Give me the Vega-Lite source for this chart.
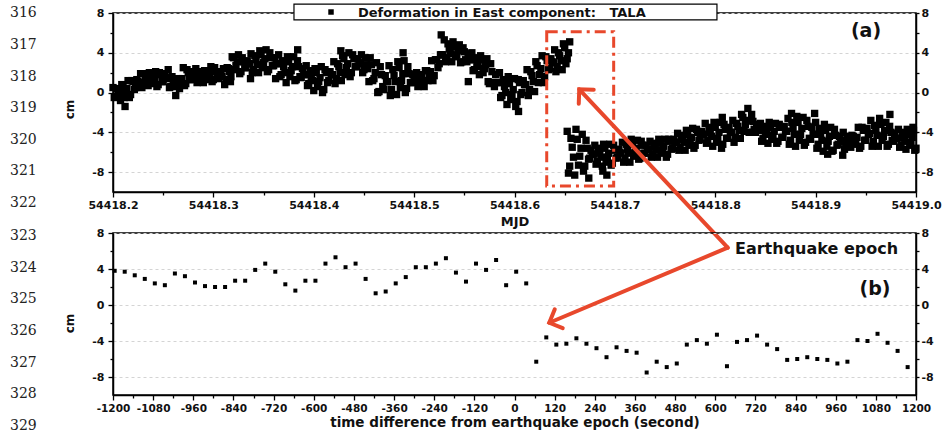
{
  "$schema": "https://vega.github.io/schema/vega-lite/v6.json",
  "background": "white",
  "padding": {"left": 9, "top": 2, "right": 4, "bottom": 0},
  "bounds": "flush",
  "spacing": 41,
  "config": {
    "locale": {"number": {"decimal": ".", "thousands": ",", "grouping": [3], "currency": ["$", ""], "minus": "-"}},
    "view": {"stroke": "black", "strokeWidth": 1.5},
    "axis": {
      "labelFont": "DejaVu Sans", "labelFontSize": 11, "labelFontWeight": "bold", "labelColor": "#111",
      "titleFont": "DejaVu Sans", "titleFontWeight": "bold", "titleFontSize": 13, "titleColor": "#111",
      "domainColor": "black", "domainWidth": 1.5, "tickColor": "black", "tickWidth": 1.3, "tickSize": 5,
      "labelPadding": 3, "grid": false, "labelOverlap": false, "labelFlush": false
    }
  },
  "datasets": {
    "east": [
      {"t":54418.2,"e":0.5},{"t":54418.2025,"e":-0.4},{"t":54418.205,"e":0.1},{"t":54418.2075,"e":-0.8},{"t":54418.21,"e":0.5},{"t":54418.2125,"e":0.0},{"t":54418.215,"e":1.2},{"t":54418.2175,"e":-0.2},{"t":54418.22,"e":1.1},{"t":54418.2225,"e":0.5},
      {"t":54418.225,"e":1.1},{"t":54418.2275,"e":1.9},{"t":54418.23,"e":0.9},{"t":54418.2325,"e":1.6},{"t":54418.235,"e":0.7},{"t":54418.2375,"e":1.7},{"t":54418.24,"e":1.2},{"t":54418.2425,"e":2.1},{"t":54418.245,"e":0.8},{"t":54418.2475,"e":1.8},
      {"t":54418.25,"e":1.1},{"t":54418.2525,"e":1.5},{"t":54418.255,"e":2.3},{"t":54418.2575,"e":0.6},{"t":54418.26,"e":1.0},{"t":54418.2625,"e":-0.3},{"t":54418.265,"e":1.4},{"t":54418.2675,"e":1.1},{"t":54418.27,"e":2.5},{"t":54418.2725,"e":0.9},
      {"t":54418.275,"e":2.0},{"t":54418.2775,"e":1.3},{"t":54418.28,"e":1.7},{"t":54418.2825,"e":2.4},{"t":54418.285,"e":1.2},{"t":54418.2875,"e":1.7},{"t":54418.29,"e":1.0},{"t":54418.2925,"e":2.1},{"t":54418.295,"e":1.6},{"t":54418.2975,"e":2.6},
      {"t":54418.3,"e":1.3},{"t":54418.3025,"e":2.1},{"t":54418.305,"e":1.4},{"t":54418.3075,"e":1.7},{"t":54418.31,"e":2.4},{"t":54418.3125,"e":1.3},{"t":54418.315,"e":2.4},{"t":54418.3175,"e":1.6},{"t":54418.32,"e":3.5},{"t":54418.3225,"e":2.7},
      {"t":54418.325,"e":3.8},{"t":54418.3275,"e":2.1},{"t":54418.33,"e":3.1},{"t":54418.3325,"e":2.5},{"t":54418.335,"e":2.9},{"t":54418.3375,"e":3.9},{"t":54418.34,"e":2.3},{"t":54418.3425,"e":3.3},{"t":54418.345,"e":2.0},{"t":54418.3475,"e":3.8},
      {"t":54418.35,"e":3.0},{"t":54418.3525,"e":4.3},{"t":54418.355,"e":2.3},{"t":54418.3575,"e":3.5},{"t":54418.36,"e":2.7},{"t":54418.3625,"e":2.9},{"t":54418.365,"e":3.8},{"t":54418.3675,"e":1.8},{"t":54418.37,"e":2.6},{"t":54418.3725,"e":1.0},
      {"t":54418.375,"e":3.1},{"t":54418.3775,"e":2.2},{"t":54418.38,"e":3.6},{"t":54418.3825,"e":1.3},{"t":54418.385,"e":2.6},{"t":54418.3875,"e":1.5},{"t":54418.39,"e":1.8},{"t":54418.3925,"e":2.7},{"t":54418.395,"e":0.9},{"t":54418.3975,"e":1.6},
      {"t":54418.4,"e":0.2},{"t":54418.4025,"e":2.0},{"t":54418.405,"e":1.1},{"t":54418.4075,"e":2.6},{"t":54418.41,"e":0.3},{"t":54418.4125,"e":2.0},{"t":54418.415,"e":1.2},{"t":54418.4175,"e":1.8},{"t":54418.42,"e":3.1},{"t":54418.4225,"e":1.4},
      {"t":54418.425,"e":2.6},{"t":54418.4275,"e":1.2},{"t":54418.43,"e":3.4},{"t":54418.4325,"e":2.5},{"t":54418.435,"e":4.0},{"t":54418.4375,"e":2.0},{"t":54418.44,"e":3.4},{"t":54418.4425,"e":2.6},{"t":54418.445,"e":3.0},{"t":54418.4475,"e":3.8},
      {"t":54418.45,"e":2.3},{"t":54418.4525,"e":2.8},{"t":54418.455,"e":1.1},{"t":54418.4575,"e":2.8},{"t":54418.46,"e":1.4},{"t":54418.4625,"e":3.0},{"t":54418.465,"e":0.1},{"t":54418.4675,"e":1.8},{"t":54418.47,"e":0.3},{"t":54418.4725,"e":1.1},
      {"t":54418.475,"e":2.7},{"t":54418.4775,"e":0.3},{"t":54418.48,"e":1.7},{"t":54418.4825,"e":-0.2},{"t":54418.485,"e":2.5},{"t":54418.4875,"e":1.2},{"t":54418.49,"e":3.2},{"t":54418.4925,"e":0.4},{"t":54418.495,"e":1.9},{"t":54418.4975,"e":1.0},
      {"t":54418.5,"e":1.3},{"t":54418.5025,"e":2.0},{"t":54418.505,"e":0.9},{"t":54418.5075,"e":1.5},{"t":54418.51,"e":0.6},{"t":54418.5125,"e":2.2},{"t":54418.515,"e":1.8},{"t":54418.5175,"e":3.2},{"t":54418.52,"e":1.7},{"t":54418.5225,"e":3.3},
      {"t":54418.525,"e":2.9},{"t":54418.5275,"e":3.8},{"t":54418.53,"e":5.3},{"t":54418.5325,"e":3.5},{"t":54418.535,"e":4.4},{"t":54418.5375,"e":3.1},{"t":54418.54,"e":4.6},{"t":54418.5425,"e":3.8},{"t":54418.545,"e":4.8},{"t":54418.5475,"e":3.1},
      {"t":54418.55,"e":4.1},{"t":54418.5525,"e":3.1},{"t":54418.555,"e":3.3},{"t":54418.5575,"e":4.0},{"t":54418.56,"e":2.3},{"t":54418.5625,"e":3.0},{"t":54418.565,"e":1.8},{"t":54418.5675,"e":3.3},{"t":54418.57,"e":2.4},{"t":54418.5725,"e":3.4},
      {"t":54418.575,"e":0.9},{"t":54418.5775,"e":2.1},{"t":54418.58,"e":0.6},{"t":54418.5825,"e":1.0},{"t":54418.585,"e":2.0},{"t":54418.5875,"e":-0.3},{"t":54418.59,"e":0.6},{"t":54418.5925,"e":-1.2},{"t":54418.595,"e":0.9},{"t":54418.5975,"e":-0.2},
      {"t":54418.6,"e":1.4},{"t":54418.6025,"e":-0.9},{"t":54418.605,"e":1.0},{"t":54418.6075,"e":0.0},{"t":54418.61,"e":0.8},{"t":54418.6125,"e":2.3},{"t":54418.615,"e":0.3},{"t":54418.6175,"e":1.7},{"t":54418.62,"e":0.1},{"t":54418.6225,"e":2.7},
      {"t":54418.625,"e":1.8},{"t":54418.6275,"e":3.7},{"t":54418.63,"e":1.6},{"t":54418.6325,"e":3.2},{"t":54418.635,"e":2.4},{"t":54418.6375,"e":3.1},{"t":54418.64,"e":4.3},{"t":54418.6425,"e":2.6},{"t":54418.645,"e":3.7},{"t":54418.6475,"e":2.3},
      {"t":54418.65,"e":4.5},{"t":54418.6525,"e":3.4},{"t":54418.655,"e":5.1},
      {"t":54418.20125,"e":-0.5},{"t":54418.20375,"e":0.4},{"t":54418.20625,"e":-0.1},{"t":54418.20875,"e":0.8},{"t":54418.21125,"e":-0.5},{"t":54418.21375,"e":0.4},{"t":54418.21625,"e":-0.5},{"t":54418.21875,"e":1.2},{"t":54418.22125,"e":0.3},{"t":54418.22375,"e":1.3},
      {"t":54418.22625,"e":1.0},{"t":54418.22875,"e":0.5},{"t":54418.23125,"e":1.9},{"t":54418.23375,"e":1.2},{"t":54418.23625,"e":2.0},{"t":54418.23875,"e":0.9},{"t":54418.24125,"e":1.4},{"t":54418.24375,"e":0.6},{"t":54418.24625,"e":2.0},{"t":54418.24875,"e":1.1},
      {"t":54418.25125,"e":1.9},{"t":54418.25375,"e":1.4},{"t":54418.25625,"e":0.5},{"t":54418.25875,"e":1.6},{"t":54418.26125,"e":0.6},{"t":54418.26375,"e":1.3},{"t":54418.26625,"e":0.4},{"t":54418.26875,"e":1.4},{"t":54418.27125,"e":0.7},{"t":54418.27375,"e":2.3},
      {"t":54418.27625,"e":1.3},{"t":54418.27875,"e":2.1},{"t":54418.28125,"e":1.7},{"t":54418.28375,"e":1.0},{"t":54418.28625,"e":2.1},{"t":54418.28875,"e":1.5},{"t":54418.29125,"e":2.2},{"t":54418.29375,"e":1.3},{"t":54418.29625,"e":1.9},{"t":54418.29875,"e":1.1},
      {"t":54418.30125,"e":2.5},{"t":54418.30375,"e":1.5},{"t":54418.30625,"e":2.1},{"t":54418.30875,"e":1.6},{"t":54418.31125,"e":0.8},{"t":54418.31375,"e":2.5},{"t":54418.31625,"e":2.1},{"t":54418.31875,"e":3.6},{"t":54418.32125,"e":2.3},{"t":54418.32375,"e":3.1},
      {"t":54418.32625,"e":1.9},{"t":54418.32875,"e":3.5},{"t":54418.33125,"e":2.5},{"t":54418.33375,"e":3.2},{"t":54418.33625,"e":2.9},{"t":54418.33875,"e":2.0},{"t":54418.34125,"e":3.7},{"t":54418.34375,"e":2.8},{"t":54418.34625,"e":4.2},{"t":54418.34875,"e":2.5},
      {"t":54418.35125,"e":3.4},{"t":54418.35375,"e":2.1},{"t":54418.35625,"e":4.0},{"t":54418.35875,"e":2.7},{"t":54418.36125,"e":3.5},{"t":54418.36375,"e":2.9},{"t":54418.36625,"e":1.6},{"t":54418.36875,"e":3.2},{"t":54418.37125,"e":2.0},{"t":54418.37375,"e":3.6},
      {"t":54418.37625,"e":1.6},{"t":54418.37875,"e":2.6},{"t":54418.38125,"e":1.2},{"t":54418.38375,"e":3.2},{"t":54418.38625,"e":1.6},{"t":54418.38875,"e":2.4},{"t":54418.39125,"e":1.8},{"t":54418.39375,"e":0.7},{"t":54418.39625,"e":2.2},{"t":54418.39875,"e":1.2},
      {"t":54418.40125,"e":2.4},{"t":54418.40375,"e":0.6},{"t":54418.40625,"e":1.5},{"t":54418.40875,"e":0.0},{"t":54418.41125,"e":2.3},{"t":54418.41375,"e":1.0},{"t":54418.41625,"e":2.1},{"t":54418.41875,"e":1.8},{"t":54418.42125,"e":0.9},{"t":54418.42375,"e":2.9},
      {"t":54418.42625,"e":2.0},{"t":54418.42875,"e":3.7},{"t":54418.43125,"e":1.8},{"t":54418.43375,"e":2.9},{"t":54418.43625,"e":1.6},{"t":54418.43875,"e":3.8},{"t":54418.44125,"e":2.6},{"t":54418.44375,"e":3.4},{"t":54418.44625,"e":2.9},{"t":54418.44875,"e":2.0},
      {"t":54418.45125,"e":3.5},{"t":54418.45375,"e":2.4},{"t":54418.45625,"e":3.5},{"t":54418.45875,"e":1.2},{"t":54418.46125,"e":2.0},{"t":54418.46375,"e":0.0},{"t":54418.46625,"e":2.6},{"t":54418.46875,"e":0.6},{"t":54418.47125,"e":1.7},{"t":54418.47375,"e":1.1},
      {"t":54418.47625,"e":-0.3},{"t":54418.47875,"e":2.3},{"t":54418.48125,"e":1.1},{"t":54418.48375,"e":3.1},{"t":54418.48625,"e":0.5},{"t":54418.48875,"e":1.9},{"t":54418.49125,"e":0.0},{"t":54418.49375,"e":2.6},{"t":54418.49625,"e":1.0},{"t":54418.49875,"e":1.8},
      {"t":54418.50125,"e":1.3},{"t":54418.50375,"e":0.6},{"t":54418.50625,"e":1.8},{"t":54418.50875,"e":1.2},{"t":54418.51125,"e":2.2},{"t":54418.51375,"e":1.2},{"t":54418.51625,"e":2.1},{"t":54418.51875,"e":1.2},{"t":54418.52125,"e":3.3},{"t":54418.52375,"e":2.5},
      {"t":54418.52625,"e":3.8},{"t":54418.52875,"e":3.8},{"t":54418.53125,"e":3.1},{"t":54418.53375,"e":4.9},{"t":54418.53625,"e":3.9},{"t":54418.53875,"e":5.1},{"t":54418.54125,"e":3.6},{"t":54418.54375,"e":4.2},{"t":54418.54625,"e":3.0},{"t":54418.54875,"e":4.5},
      {"t":54418.55125,"e":3.3},{"t":54418.55375,"e":3.9},{"t":54418.55625,"e":3.3},{"t":54418.55875,"e":2.2},{"t":54418.56125,"e":3.5},{"t":54418.56375,"e":2.6},{"t":54418.56625,"e":3.7},{"t":54418.56875,"e":2.0},{"t":54418.57125,"e":2.8},{"t":54418.57375,"e":1.1},
      {"t":54418.57625,"e":2.9},{"t":54418.57875,"e":1.0},{"t":54418.58125,"e":1.8},{"t":54418.58375,"e":1.0},{"t":54418.58625,"e":-0.5},{"t":54418.58875,"e":1.3},{"t":54418.59125,"e":0.0},{"t":54418.59375,"e":1.6},{"t":54418.59625,"e":-0.7},{"t":54418.59875,"e":0.3},
      {"t":54418.60125,"e":-1.4},{"t":54418.60375,"e":1.3},{"t":54418.60625,"e":-0.2},{"t":54418.60875,"e":1.2},{"t":54418.61125,"e":0.8},{"t":54418.61375,"e":-0.3},{"t":54418.61625,"e":2.1},{"t":54418.61875,"e":1.1},{"t":54418.62125,"e":3.1},{"t":54418.62375,"e":1.0},
      {"t":54418.62625,"e":2.4},{"t":54418.62875,"e":1.0},{"t":54418.63125,"e":3.6},{"t":54418.63375,"e":2.3},{"t":54418.63625,"e":3.4},{"t":54418.63875,"e":3.0},{"t":54418.64125,"e":2.1},{"t":54418.64375,"e":4.0},{"t":54418.64625,"e":3.2},{"t":54418.64875,"e":4.9},
      {"t":54418.65125,"e":2.9},{"t":54418.65375,"e":4.0},
      {"t":54418.212,"e":-1.4},{"t":54418.317,"e":1.1},{"t":54418.337,"e":1.4},{"t":54418.362,"e":1.4},{"t":54418.384,"e":4.3},{"t":54418.427,"e":4.2},{"t":54418.489,"e":4.0},{"t":54418.527,"e":5.8},{"t":54418.554,"e":1.1},{"t":54418.604,"e":-1.9},
      {"t":54418.6525,"e":-3.9},{"t":54418.655,"e":-7.4},{"t":54418.6575,"e":-5.5},{"t":54418.66,"e":-8.3},{"t":54418.6625,"e":-4.7},{"t":54418.665,"e":-6.4},{"t":54418.6675,"e":-4.2},{"t":54418.67,"e":-7.4},{"t":54418.6725,"e":-5.6},{"t":54418.675,"e":-6.6},
      {"t":54418.6775,"e":-6.2},{"t":54418.68,"e":-5.3},{"t":54418.6825,"e":-6.9},{"t":54418.685,"e":-6.1},{"t":54418.6875,"e":-7.4},{"t":54418.69,"e":-5.6},{"t":54418.6925,"e":-6.5},{"t":54418.695,"e":-5.2},{"t":54418.6975,"e":-7.1},{"t":54418.7,"e":-5.8},
      {"t":54418.7025,"e":-6.5},{"t":54418.705,"e":-6.0},{"t":54418.7075,"e":-5.0},{"t":54418.71,"e":-6.6},{"t":54418.7125,"e":-5.7},{"t":54418.715,"e":-7.0},{"t":54418.7175,"e":-5.2},{"t":54418.72,"e":-6.0},{"t":54418.7225,"e":-4.8},{"t":54418.725,"e":-6.6},
      {"t":54418.7275,"e":-5.3},{"t":54418.73,"e":-6.1},{"t":54418.7325,"e":-5.7},{"t":54418.735,"e":-4.9},{"t":54418.7375,"e":-6.2},{"t":54418.74,"e":-5.5},{"t":54418.7425,"e":-6.5},{"t":54418.745,"e":-5.1},{"t":54418.7475,"e":-5.8},{"t":54418.75,"e":-4.7},
      {"t":54418.7525,"e":-6.2},{"t":54418.755,"e":-4.9},{"t":54418.7575,"e":-5.6},{"t":54418.76,"e":-5.0},{"t":54418.7625,"e":-4.1},{"t":54418.765,"e":-5.5},{"t":54418.7675,"e":-4.7},{"t":54418.77,"e":-5.8},{"t":54418.7725,"e":-4.2},{"t":54418.775,"e":-4.9},
      {"t":54418.7775,"e":-3.6},{"t":54418.78,"e":-5.3},{"t":54418.7825,"e":-4.0},{"t":54418.785,"e":-4.7},{"t":54418.7875,"e":-4.2},{"t":54418.79,"e":-3.1},{"t":54418.7925,"e":-4.8},{"t":54418.795,"e":-4.0},{"t":54418.7975,"e":-5.4},{"t":54418.8,"e":-3.5},
      {"t":54418.8025,"e":-4.6},{"t":54418.805,"e":-3.0},{"t":54418.8075,"e":-5.2},{"t":54418.81,"e":-3.7},{"t":54418.8125,"e":-4.6},{"t":54418.815,"e":-4.0},{"t":54418.8175,"e":-2.8},{"t":54418.82,"e":-4.5},{"t":54418.8225,"e":-3.4},{"t":54418.825,"e":-4.6},
      {"t":54418.8275,"e":-2.5},{"t":54418.83,"e":-3.2},{"t":54418.8325,"e":-1.6},{"t":54418.835,"e":-4.0},{"t":54418.8375,"e":-2.9},{"t":54418.84,"e":-4.0},{"t":54418.8425,"e":-3.8},{"t":54418.845,"e":-3.1},{"t":54418.8475,"e":-4.6},{"t":54418.85,"e":-3.9},
      {"t":54418.8525,"e":-5.1},{"t":54418.855,"e":-3.5},{"t":54418.8575,"e":-4.3},{"t":54418.86,"e":-3.1},{"t":54418.8625,"e":-4.9},{"t":54418.865,"e":-3.5},{"t":54418.8675,"e":-4.5},{"t":54418.87,"e":-3.9},{"t":54418.8725,"e":-2.6},{"t":54418.875,"e":-4.8},
      {"t":54418.8775,"e":-3.6},{"t":54418.88,"e":-5.4},{"t":54418.8825,"e":-3.0},{"t":54418.885,"e":-4.2},{"t":54418.8875,"e":-2.5},{"t":54418.89,"e":-5.0},{"t":54418.8925,"e":-3.4},{"t":54418.895,"e":-4.7},{"t":54418.8975,"e":-4.2},{"t":54418.9,"e":-3.0},
      {"t":54418.9025,"e":-5.2},{"t":54418.905,"e":-4.2},{"t":54418.9075,"e":-5.9},{"t":54418.91,"e":-3.8},{"t":54418.9125,"e":-4.9},{"t":54418.915,"e":-3.5},{"t":54418.9175,"e":-5.8},{"t":54418.92,"e":-4.3},{"t":54418.9225,"e":-5.2},{"t":54418.925,"e":-4.9},
      {"t":54418.9275,"e":-4.0},{"t":54418.93,"e":-5.3},{"t":54418.9325,"e":-4.8},{"t":54418.935,"e":-5.5},{"t":54418.9375,"e":-4.4},{"t":54418.94,"e":-4.8},{"t":54418.9425,"e":-3.5},{"t":54418.945,"e":-5.4},{"t":54418.9475,"e":-3.8},{"t":54418.95,"e":-4.8},
      {"t":54418.9525,"e":-4.2},{"t":54418.955,"e":-2.8},{"t":54418.9575,"e":-4.9},{"t":54418.96,"e":-3.8},{"t":54418.9625,"e":-5.4},{"t":54418.965,"e":-3.2},{"t":54418.9675,"e":-4.4},{"t":54418.97,"e":-3.0},{"t":54418.9725,"e":-5.2},{"t":54418.975,"e":-4.0},
      {"t":54418.9775,"e":-4.9},{"t":54418.98,"e":-4.6},{"t":54418.9825,"e":-3.7},{"t":54418.985,"e":-5.3},{"t":54418.9875,"e":-4.5},{"t":54418.99,"e":-5.7},{"t":54418.9925,"e":-4.2},{"t":54418.995,"e":-5.0},{"t":54418.9975,"e":-3.8},{"t":54419.0,"e":-5.6},
      {"t":54418.65375,"e":-8.1},{"t":54418.65625,"e":-4.6},{"t":54418.65875,"e":-6.5},{"t":54418.66125,"e":-3.7},{"t":54418.66375,"e":-7.3},{"t":54418.66625,"e":-5.6},{"t":54418.66875,"e":-7.9},{"t":54418.67125,"e":-4.8},{"t":54418.67375,"e":-6.7},{"t":54418.67625,"e":-5.8},
      {"t":54418.67875,"e":-6.2},{"t":54418.68125,"e":-7.2},{"t":54418.68375,"e":-5.6},{"t":54418.68625,"e":-6.5},{"t":54418.68875,"e":-5.2},{"t":54418.69125,"e":-7.0},{"t":54418.69375,"e":-6.1},{"t":54418.69625,"e":-7.3},{"t":54418.69875,"e":-5.3},{"t":54418.70125,"e":-6.6},
      {"t":54418.70375,"e":-5.7},{"t":54418.70625,"e":-6.1},{"t":54418.70875,"e":-7.0},{"t":54418.71125,"e":-5.2},{"t":54418.71375,"e":-6.1},{"t":54418.71625,"e":-4.7},{"t":54418.71875,"e":-6.4},{"t":54418.72125,"e":-5.6},{"t":54418.72375,"e":-6.7},{"t":54418.72625,"e":-4.9},
      {"t":54418.72875,"e":-6.1},{"t":54418.73125,"e":-5.3},{"t":54418.73375,"e":-5.7},{"t":54418.73625,"e":-6.5},{"t":54418.73875,"e":-5.1},{"t":54418.74125,"e":-5.8},{"t":54418.74375,"e":-4.7},{"t":54418.74625,"e":-6.1},{"t":54418.74875,"e":-5.4},{"t":54418.75125,"e":-6.5},
      {"t":54418.75375,"e":-4.7},{"t":54418.75625,"e":-5.7},{"t":54418.75875,"e":-4.7},{"t":54418.76125,"e":-5.0},{"t":54418.76375,"e":-5.8},{"t":54418.76625,"e":-4.3},{"t":54418.76875,"e":-5.0},{"t":54418.77125,"e":-3.8},{"t":54418.77375,"e":-5.3},{"t":54418.77625,"e":-4.5},
      {"t":54418.77875,"e":-5.6},{"t":54418.78125,"e":-3.7},{"t":54418.78375,"e":-4.8},{"t":54418.78625,"e":-3.9},{"t":54418.78875,"e":-4.2},{"t":54418.79125,"e":-5.1},{"t":54418.79375,"e":-3.5},{"t":54418.79625,"e":-4.4},{"t":54418.79875,"e":-3.0},{"t":54418.80125,"e":-5.0},
      {"t":54418.80375,"e":-4.0},{"t":54418.80625,"e":-5.6},{"t":54418.80875,"e":-3.2},{"t":54418.81125,"e":-4.6},{"t":54418.81375,"e":-3.5},{"t":54418.81625,"e":-4.0},{"t":54418.81875,"e":-5.0},{"t":54418.82125,"e":-3.1},{"t":54418.82375,"e":-3.8},{"t":54418.82625,"e":-2.2},
      {"t":54418.82875,"e":-3.9},{"t":54418.83125,"e":-2.8},{"t":54418.83375,"e":-4.0},{"t":54418.83625,"e":-2.2},{"t":54418.83875,"e":-3.7},{"t":54418.84125,"e":-3.2},{"t":54418.84375,"e":-3.8},{"t":54418.84625,"e":-4.9},{"t":54418.84875,"e":-3.4},{"t":54418.85125,"e":-4.2},
      {"t":54418.85375,"e":-3.0},{"t":54418.85625,"e":-4.7},{"t":54418.85875,"e":-3.9},{"t":54418.86125,"e":-5.1},{"t":54418.86375,"e":-3.2},{"t":54418.86625,"e":-4.5},{"t":54418.86875,"e":-3.4},{"t":54418.87125,"e":-3.9},{"t":54418.87375,"e":-5.2},{"t":54418.87625,"e":-3.0},
      {"t":54418.87875,"e":-4.2},{"t":54418.88125,"e":-2.4},{"t":54418.88375,"e":-4.8},{"t":54418.88625,"e":-3.6},{"t":54418.88875,"e":-5.3},{"t":54418.89125,"e":-2.8},{"t":54418.89375,"e":-4.6},{"t":54418.89625,"e":-3.5},{"t":54418.89875,"e":-4.2},{"t":54418.90125,"e":-5.6},
      {"t":54418.90375,"e":-3.6},{"t":54418.90625,"e":-4.8},{"t":54418.90875,"e":-3.2},{"t":54418.91125,"e":-5.4},{"t":54418.91375,"e":-4.4},{"t":54418.91625,"e":-5.9},{"t":54418.91875,"e":-3.7},{"t":54418.92125,"e":-5.3},{"t":54418.92375,"e":-4.4},{"t":54418.92625,"e":-4.8},
      {"t":54418.92875,"e":-5.7},{"t":54418.93125,"e":-4.4},{"t":54418.93375,"e":-5.0},{"t":54418.93625,"e":-4.3},{"t":54418.93875,"e":-5.2},{"t":54418.94125,"e":-4.5},{"t":54418.94375,"e":-5.6},{"t":54418.94625,"e":-3.5},{"t":54418.94875,"e":-4.8},{"t":54418.95125,"e":-3.6},
      {"t":54418.95375,"e":-4.1},{"t":54418.95625,"e":-5.4},{"t":54418.95875,"e":-3.3},{"t":54418.96125,"e":-4.3},{"t":54418.96375,"e":-2.6},{"t":54418.96625,"e":-4.8},{"t":54418.96875,"e":-3.8},{"t":54418.97125,"e":-5.4},{"t":54418.97375,"e":-3.4},{"t":54418.97625,"e":-4.8},
      {"t":54418.97875,"e":-4.1},{"t":54418.98125,"e":-4.6},{"t":54418.98375,"e":-5.5},{"t":54418.98625,"e":-4.0},{"t":54418.98875,"e":-4.9},{"t":54418.99125,"e":-3.7},{"t":54418.99375,"e":-5.3},{"t":54418.99625,"e":-4.5},{"t":54418.99875,"e":-5.8},
      {"t":54418.674,"e":-8.6},{"t":54418.688,"e":-7.9},{"t":54418.692,"e":-8.3},{"t":54418.807,"e":-2.5},{"t":54418.876,"e":-2.1},{"t":54418.899,"e":-2.1},{"t":54418.912,"e":-6.2},{"t":54418.927,"e":-6.3},{"t":54418.974,"e":-2.2},{"t":54418.997,"e":-3.5}
    ],
    "diff": [
      {"s":-1195,"e":3.8},{"s":-1165,"e":3.7},{"s":-1135,"e":3.3},{"s":-1105,"e":2.9},{"s":-1075,"e":2.4},{"s":-1045,"e":2.2},{"s":-1015,"e":3.5},{"s":-985,"e":3.2},{"s":-955,"e":2.5},{"s":-925,"e":2.1},
      {"s":-895,"e":2.0},{"s":-865,"e":2.0},{"s":-835,"e":2.7},{"s":-805,"e":2.7},{"s":-775,"e":3.9},{"s":-745,"e":4.6},{"s":-715,"e":3.7},{"s":-685,"e":2.3},{"s":-655,"e":1.6},{"s":-625,"e":2.7},
      {"s":-595,"e":2.7},{"s":-565,"e":4.6},{"s":-535,"e":5.3},{"s":-505,"e":4.2},{"s":-475,"e":4.6},{"s":-445,"e":2.9},{"s":-415,"e":1.3},{"s":-385,"e":1.5},{"s":-355,"e":2.4},{"s":-325,"e":3.1},
      {"s":-295,"e":4.2},{"s":-265,"e":4.2},{"s":-235,"e":4.6},{"s":-205,"e":5.2},{"s":-175,"e":3.6},{"s":-145,"e":2.6},{"s":-115,"e":4.6},{"s":-85,"e":3.9},{"s":-55,"e":5.0},{"s":-25,"e":2.2},
      {"s":5,"e":3.7},{"s":35,"e":2.4},{"s":65,"e":-6.3},{"s":95,"e":-3.6},{"s":125,"e":-4.4},{"s":155,"e":-4.3},{"s":185,"e":-3.7},{"s":215,"e":-4.3},{"s":245,"e":-4.8},{"s":275,"e":-5.8},
      {"s":305,"e":-4.7},{"s":335,"e":-5.1},{"s":365,"e":-5.3},{"s":395,"e":-7.5},{"s":425,"e":-6.3},{"s":455,"e":-6.9},{"s":485,"e":-6.5},{"s":515,"e":-4.4},{"s":545,"e":-3.9},{"s":575,"e":-4.3},
      {"s":605,"e":-3.3},{"s":635,"e":-6.8},{"s":665,"e":-4.1},{"s":695,"e":-3.9},{"s":725,"e":-3.4},{"s":755,"e":-4.4},{"s":785,"e":-4.9},{"s":815,"e":-6.1},{"s":845,"e":-6.0},{"s":875,"e":-5.8},
      {"s":905,"e":-6.0},{"s":935,"e":-6.1},{"s":965,"e":-6.5},{"s":995,"e":-6.3},{"s":1025,"e":-3.9},{"s":1055,"e":-4.0},{"s":1085,"e":-3.2},{"s":1115,"e":-4.2},{"s":1145,"e":-5.1},{"s":1175,"e":-6.9}
    ],
    "lines_a": [{"ln":316},{"ln":317},{"ln":318},{"ln":319},{"ln":320},{"ln":321},{"ln":322}],
    "lines_b": [{"ln":323},{"ln":324},{"ln":325},{"ln":326},{"ln":327},{"ln":328},{"ln":329}]
  },
  "vconcat": [
    {
      "width": 803,
      "height": 179,
      "layer": [
        {
          "data": {"name": "east"},
          "mark": {"type": "point", "shape": "square", "filled": true, "size": 54, "color": "black", "opacity": 1},
          "encoding": {
            "x": {"field": "t", "type": "quantitative", "scale": {"domain": [54418.2, 54419.0], "nice": false, "zero": false},
                  "axis": {"orient": "bottom", "values": [54418.2,54418.3,54418.4,54418.5,54418.6,54418.7,54418.8,54418.9,54419.0], "format": ".1f", "title": "MJD", "labelPadding": 2, "titlePadding": 5}},
            "y": {"field": "e", "type": "quantitative", "scale": {"domain": [-10, 8], "nice": false, "zero": false},
                  "axis": {"orient": "left", "values": [-8,-4,0,4,8], "title": "cm", "titleFontSize": 12, "titlePadding": 15, "titleY": 96, "grid": true, "gridColor": "#d4d4d4", "gridDash": [3,3], "gridWidth": 1, "labelPadding": 4}}
          }
        },
        {
          "data": {"values": [{}]},
          "mark": {"type": "rect", "fill": "white", "fillOpacity": 0, "stroke": "#e8482c", "strokeWidth": 3, "strokeDash": [11,5,3,5]},
          "encoding": {
            "x": {"datum": 54418.6321, "type": "quantitative", "scale": {"domain": [54418.2, 54419.0], "nice": false, "zero": false},
                  "axis": {"orient": "bottom", "values": [54418.25,54418.35,54418.45,54418.55,54418.65,54418.75,54418.85,54418.95], "labels": false, "domain": false, "tickSize": 3, "title": null}},
            "x2": {"datum": 54418.6988},
            "y": {"datum": 6.12, "type": "quantitative", "scale": {"domain": [-10, 8], "nice": false, "zero": false},
                  "axis": {"orient": "right", "values": [-8,-4,0,4,8], "title": null, "tickSize": 3, "labelPadding": 2}},
            "y2": {"datum": -9.4}
          }
        },
        {
          "data": {"values": [{}]},
          "mark": {"type": "rule", "color": "#e8482c", "strokeWidth": 4, "strokeCap": "round"},
          "encoding": {
            "x": {"datum": 54418.8124, "type": "quantitative", "scale": {"domain": [54418.2, 54419.0], "nice": false, "zero": false}, "axis": null},
            "x2": {"datum": 54418.6645},
            "y": {"datum": -15.6, "type": "quantitative", "scale": {"domain": [-10, 8], "nice": false, "zero": false},
                  "axis": {"orient": "left", "values": [-6,-2,2,6], "labels": false, "domain": false, "tickSize": 3, "title": null}},
            "y2": {"datum": 0.33}
          }
        },
        {
          "data": {"values": [{}]},
          "mark": {"type": "point", "shape": "M-1,1L0,0L1,1", "filled": false, "stroke": "#e8482c", "strokeWidth": 4, "size": 420, "angle": 316.9, "strokeCap": "round", "opacity": 1},
          "encoding": {
            "x": {"datum": 54418.6645, "type": "quantitative", "scale": {"domain": [54418.2, 54419.0], "nice": false, "zero": false}, "axis": null},
            "y": {"datum": 0.33, "type": "quantitative", "scale": {"domain": [-10, 8], "nice": false, "zero": false},
                  "axis": {"orient": "right", "values": [-6,-2,2,6], "labels": false, "domain": false, "tickSize": 3, "title": null}}
          }
        },
        {
          "data": {"values": [{}]},
          "mark": {"type": "rect", "fill": "white", "stroke": "black", "strokeWidth": 1.2},
          "encoding": {
            "x": {"datum": 54418.3803, "type": "quantitative", "scale": {"domain": [54418.2, 54419.0], "nice": false, "zero": false}, "axis": null},
            "x2": {"datum": 54418.8017},
            "y": {"datum": 8.9, "type": "quantitative", "scale": {"domain": [-10, 8], "nice": false, "zero": false}, "axis": null},
            "y2": {"datum": 7.3}
          }
        },
        {
          "data": {"values": [{}]},
          "mark": {"type": "point", "shape": "square", "filled": true, "size": 30, "color": "black", "opacity": 1},
          "encoding": {
            "x": {"datum": 54418.4172, "type": "quantitative", "scale": {"domain": [54418.2, 54419.0], "nice": false, "zero": false}, "axis": null},
            "y": {"datum": 8.1, "type": "quantitative", "scale": {"domain": [-10, 8], "nice": false, "zero": false}, "axis": null}
          }
        },
        {
          "data": {"values": [{}]},
          "mark": {"type": "text", "text": "Deformation in East component:\u00a0\u00a0\u00a0TALA", "align": "left", "baseline": "middle", "font": "DejaVu Sans", "fontWeight": "bold", "fontSize": 13, "color": "#111"},
          "encoding": {
            "x": {"datum": 54418.4441, "type": "quantitative", "scale": {"domain": [54418.2, 54419.0], "nice": false, "zero": false}, "axis": null},
            "y": {"datum": 8.05, "type": "quantitative", "scale": {"domain": [-10, 8], "nice": false, "zero": false}, "axis": null}
          }
        },
        {
          "data": {"values": [{}]},
          "mark": {"type": "text", "text": "(a)", "align": "center", "baseline": "middle", "font": "DejaVu Sans", "fontWeight": "bold", "fontSize": 19, "color": "#111"},
          "encoding": {
            "x": {"datum": 54418.9502, "type": "quantitative", "scale": {"domain": [54418.2, 54419.0], "nice": false, "zero": false}, "axis": null},
            "y": {"datum": 6.19, "type": "quantitative", "scale": {"domain": [-10, 8], "nice": false, "zero": false}, "axis": null}
          }
        },
        {
          "data": {"name": "lines_a"},
          "mark": {"type": "text", "align": "left", "baseline": "middle", "font": "DejaVu Serif", "fontSize": 14, "color": "#222"},
          "encoding": {
            "x": {"datum": 54418.0974, "type": "quantitative", "scale": {"domain": [54418.2, 54419.0], "nice": false, "zero": false}, "axis": null},
            "y": {"field": "ln", "type": "quantitative", "scale": {"domain": [315.99, 321.655], "reverse": true, "nice": false, "zero": false}, "axis": null},
            "text": {"field": "ln", "type": "quantitative", "format": "d"}
          }
        }
      ],
      "resolve": {"scale": {"y": "independent"}, "axis": {"x": "independent", "y": "independent"}}
    },
    {
      "width": 803,
      "height": 162,
      "layer": [
        {
          "data": {"name": "diff"},
          "mark": {"type": "point", "shape": "square", "filled": true, "size": 16, "color": "black", "opacity": 1},
          "encoding": {
            "x": {"field": "s", "type": "quantitative", "scale": {"domain": [-1200, 1200], "nice": false, "zero": false},
                  "axis": {"orient": "bottom", "values": [-1200,-1080,-960,-840,-720,-600,-480,-360,-240,-120,0,120,240,360,480,600,720,840,960,1080,1200], "format": "d", "labelFontSize": 10.5, "title": "time difference from earthquake epoch (second)", "titleFontSize": 13.5, "labelPadding": 3, "titlePadding": 2}},
            "y": {"field": "e", "type": "quantitative", "scale": {"domain": [-10, 8], "nice": false, "zero": false},
                  "axis": {"orient": "left", "values": [-8,-4,0,4,8], "title": "cm", "titleFontSize": 12, "titlePadding": 15, "titleY": 90, "grid": true, "gridColor": "#d4d4d4", "gridDash": [3,3], "gridWidth": 1, "labelPadding": 4}}
          }
        },
        {
          "data": {"values": [{}]},
          "mark": {"type": "text", "text": "Earthquake epoch", "align": "left", "baseline": "middle", "font": "DejaVu Sans", "fontWeight": "bold", "fontSize": 16, "color": "#111"},
          "encoding": {
            "x": {"datum": 659, "type": "quantitative", "scale": {"domain": [-1200, 1200], "nice": false, "zero": false},
                  "axis": {"orient": "bottom", "values": [-1140,-1020,-900,-780,-660,-540,-420,-300,-180,-60,60,180,300,420,540,660,780,900,1020,1140], "labels": false, "domain": false, "tickSize": 3, "title": null}},
            "y": {"datum": 6.22, "type": "quantitative", "scale": {"domain": [-10, 8], "nice": false, "zero": false},
                  "axis": {"orient": "right", "values": [-8,-4,0,4,8], "title": null, "tickSize": 3, "labelPadding": 2}}
          }
        },
        {
          "data": {"values": [{}]},
          "mark": {"type": "rule", "color": "#e8482c", "strokeWidth": 4, "strokeCap": "round"},
          "encoding": {
            "x": {"datum": 637.2, "type": "quantitative", "scale": {"domain": [-1200, 1200], "nice": false, "zero": false}, "axis": null},
            "x2": {"datum": 104.0},
            "y": {"datum": 6.37, "type": "quantitative", "scale": {"domain": [-10, 8], "nice": false, "zero": false},
                  "axis": {"orient": "left", "values": [-6,-2,2,6], "labels": false, "domain": false, "tickSize": 3, "title": null}},
            "y2": {"datum": -1.97}
          }
        },
        {
          "data": {"values": [{}]},
          "mark": {"type": "point", "shape": "M-1,1L0,0L1,1", "filled": false, "stroke": "#e8482c", "strokeWidth": 4, "size": 420, "angle": 247.2, "strokeCap": "round", "opacity": 1},
          "encoding": {
            "x": {"datum": 104.0, "type": "quantitative", "scale": {"domain": [-1200, 1200], "nice": false, "zero": false}, "axis": null},
            "y": {"datum": -1.97, "type": "quantitative", "scale": {"domain": [-10, 8], "nice": false, "zero": false},
                  "axis": {"orient": "right", "values": [-6,-2,2,6], "labels": false, "domain": false, "tickSize": 3, "title": null}}
          }
        },
        {
          "data": {"values": [{}]},
          "mark": {"type": "text", "text": "(b)", "align": "center", "baseline": "middle", "font": "DejaVu Sans", "fontWeight": "bold", "fontSize": 19, "color": "#111"},
          "encoding": {
            "x": {"datum": 1077.5, "type": "quantitative", "scale": {"domain": [-1200, 1200], "nice": false, "zero": false}, "axis": null},
            "y": {"datum": 1.83, "type": "quantitative", "scale": {"domain": [-10, 8], "nice": false, "zero": false}, "axis": null}
          }
        },
        {
          "data": {"name": "lines_b"},
          "mark": {"type": "text", "align": "left", "baseline": "middle", "font": "DejaVu Serif", "fontSize": 14, "color": "#222"},
          "encoding": {
            "x": {"datum": -1507.8, "type": "quantitative", "scale": {"domain": [-1200, 1200], "nice": false, "zero": false}, "axis": null},
            "y": {"field": "ln", "type": "quantitative", "scale": {"domain": [322.905, 328.02], "reverse": true, "nice": false, "zero": false}, "axis": null},
            "text": {"field": "ln", "type": "quantitative", "format": "d"}
          }
        }
      ],
      "resolve": {"scale": {"y": "independent"}, "axis": {"x": "independent", "y": "independent"}}
    }
  ]
}
